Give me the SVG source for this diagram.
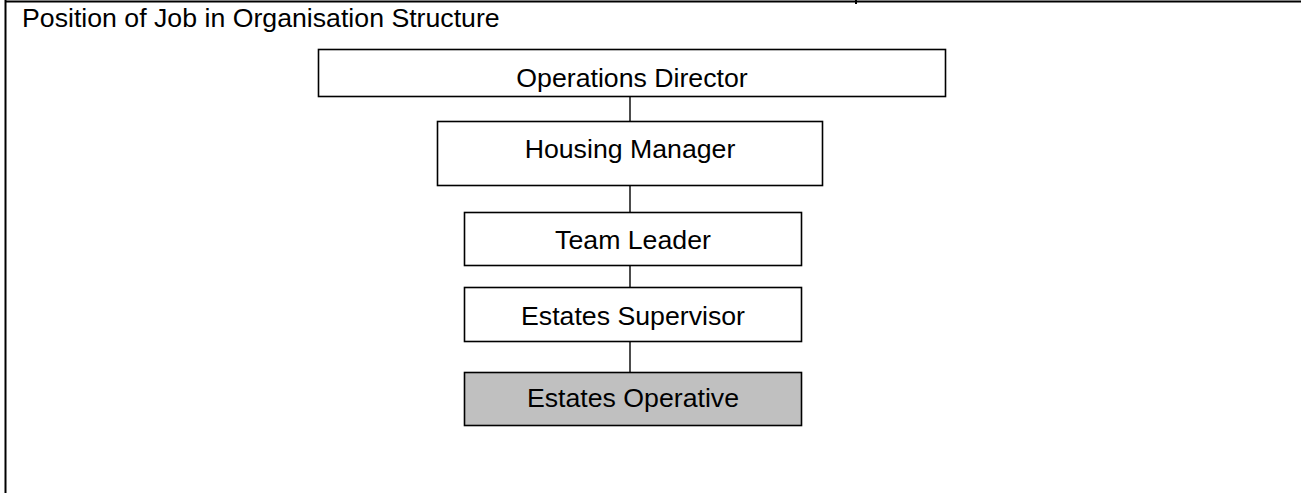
<svg xmlns="http://www.w3.org/2000/svg" width="1301" height="493" viewBox="0 0 1301 493">
  <style>
    .frame { stroke: #000; stroke-width: 2; fill: none; }
    .box { fill: #fff; stroke: #000; stroke-width: 1.6; }
    .box.current { fill: #c0c0c0; }
    .label { font-family: "Liberation Sans", Arial, sans-serif; font-size: 26.7px; fill: #000; text-anchor: middle; }
    .title { font-family: "Liberation Sans", Arial, sans-serif; font-size: 26.7px; fill: #000; }
    .link { stroke: #000; stroke-width: 1.4; fill: none; }
  </style>
  <rect width="1301" height="493" fill="#fff"/>

  <!-- table cell frame -->
  <g id="frame">
    <line class="frame" x1="5" y1="1.5" x2="1301" y2="1.5"/>
    <line class="frame" x1="5.5" y1="0" x2="5.5" y2="493"/>
    <line class="frame" x1="856" y1="0" x2="856" y2="4"/>
    <text class="title" x="22" y="27">Position of Job in Organisation Structure</text>
  </g>

  <!-- reporting lines -->
  <g id="connectors">
    <line class="link" x1="630" y1="97" x2="630" y2="121"/>
    <line class="link" x1="630" y1="186" x2="630" y2="212"/>
    <line class="link" x1="630" y1="266" x2="630" y2="287"/>
    <line class="link" x1="630" y1="342" x2="630" y2="372"/>
  </g>

  <g id="operations-director">
    <rect class="box" x="318.5" y="49.5" width="627" height="47"/>
    <text class="label" x="632" y="86.5">Operations Director</text>
  </g>
  <g id="housing-manager">
    <rect class="box" x="437.5" y="121.5" width="385" height="64"/>
    <text class="label" x="630" y="158">Housing Manager</text>
  </g>
  <g id="team-leader">
    <rect class="box" x="464.5" y="212.5" width="337" height="53"/>
    <text class="label" x="633" y="249">Team Leader</text>
  </g>
  <g id="estates-supervisor">
    <rect class="box" x="464.5" y="287.5" width="337" height="54"/>
    <text class="label" x="633" y="325">Estates Supervisor</text>
  </g>
  <g id="estates-operative">
    <rect class="box current" x="464.5" y="372.5" width="337" height="53"/>
    <text class="label" x="633" y="406.5">Estates Operative</text>
  </g>
</svg>
